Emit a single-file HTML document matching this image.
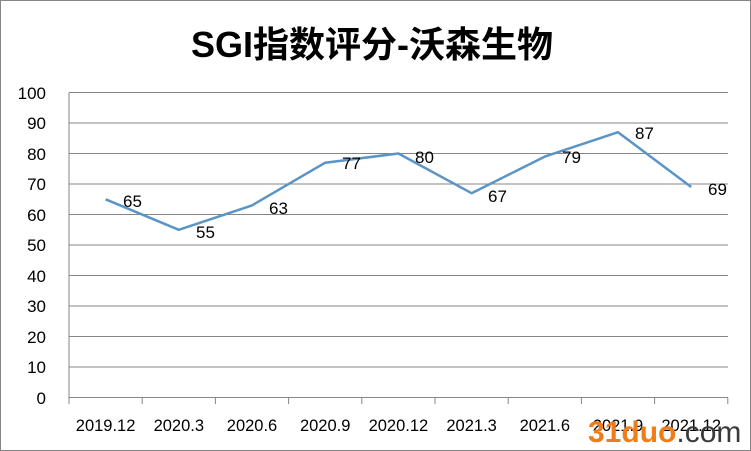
<!DOCTYPE html>
<html><head><meta charset="utf-8"><style>
html,body{margin:0;padding:0;background:#fff;}
svg{display:block;}
</style></head><body>
<svg width="751" height="451" xmlns="http://www.w3.org/2000/svg">
<rect x="0.5" y="0.5" width="750" height="450" fill="#fff" stroke="#868686"/>
<text x="372" y="57" text-anchor="middle" font-family="'Liberation Sans','Noto Sans CJK SC',sans-serif" font-weight="bold" font-size="36" fill="#000">SGI指数评分-沃森生物</text>
<g stroke="#868686" stroke-width="1">
<line x1="69" y1="92.5" x2="728" y2="92.5"/>
<line x1="69" y1="123" x2="728" y2="123"/>
<line x1="69" y1="153.5" x2="728" y2="153.5"/>
<line x1="69" y1="184" x2="728" y2="184"/>
<line x1="69" y1="214.5" x2="728" y2="214.5"/>
<line x1="69" y1="245" x2="728" y2="245"/>
<line x1="69" y1="275.5" x2="728" y2="275.5"/>
<line x1="69" y1="306" x2="728" y2="306"/>
<line x1="69" y1="336.5" x2="728" y2="336.5"/>
<line x1="69" y1="367" x2="728" y2="367"/>
<line x1="69" y1="397.5" x2="728" y2="397.5"/>
<line x1="69" y1="92.5" x2="69" y2="404"/>
<line x1="142.2" y1="397.5" x2="142.2" y2="404"/>
<line x1="215.4" y1="397.5" x2="215.4" y2="404"/>
<line x1="288.6" y1="397.5" x2="288.6" y2="404"/>
<line x1="361.8" y1="397.5" x2="361.8" y2="404"/>
<line x1="435" y1="397.5" x2="435" y2="404"/>
<line x1="508.2" y1="397.5" x2="508.2" y2="404"/>
<line x1="581.4" y1="397.5" x2="581.4" y2="404"/>
<line x1="654.6" y1="397.5" x2="654.6" y2="404"/>
<line x1="727.8" y1="397.5" x2="727.8" y2="404"/>
</g>
<g font-family="'Liberation Sans',sans-serif" font-size="17" fill="#000" text-anchor="end">
<text x="46" y="99">100</text><text x="46" y="129">90</text><text x="46" y="160">80</text>
<text x="46" y="190">70</text><text x="46" y="221">60</text><text x="46" y="251">50</text>
<text x="46" y="282">40</text><text x="46" y="312">30</text><text x="46" y="343">20</text>
<text x="46" y="373">10</text><text x="46" y="404">0</text>
</g>
<g font-family="'Liberation Sans',sans-serif" font-size="16.5" fill="#000" text-anchor="middle">
<text x="105.6" y="431">2019.12</text><text x="178.8" y="431">2020.3</text><text x="252" y="431">2020.6</text>
<text x="325.2" y="431">2020.9</text><text x="398.4" y="431">2020.12</text><text x="471.6" y="431">2021.3</text>
<text x="544.8" y="431">2021.6</text><text x="618" y="431">2021.9</text><text x="691.2" y="431">2021.12</text>
</g>
<polyline fill="none" stroke="#5b94c6" stroke-width="2.5" stroke-linejoin="round" points="105.6,199.3 178.8,229.8 252,205.4 325.2,162.7 398.4,153.5 471.6,193.2 544.8,156.6 618,132.2 691.2,187"/>
<g font-family="'Liberation Sans',sans-serif" font-size="17" fill="#000">
<text x="123" y="207">65</text><text x="196" y="238">55</text><text x="269" y="214">63</text>
<text x="342" y="169">77</text><text x="415" y="163">80</text><text x="488" y="202">67</text>
<text x="562" y="163">79</text><text x="635" y="139">87</text><text x="708" y="195">69</text>
</g>
<text x="588" y="442" font-family="'Liberation Sans',sans-serif" font-weight="bold" font-size="30" fill="#f07d1a">31duo<tspan fill="#3a3a3a" font-weight="normal">.com</tspan></text>
</svg>
</body></html>
